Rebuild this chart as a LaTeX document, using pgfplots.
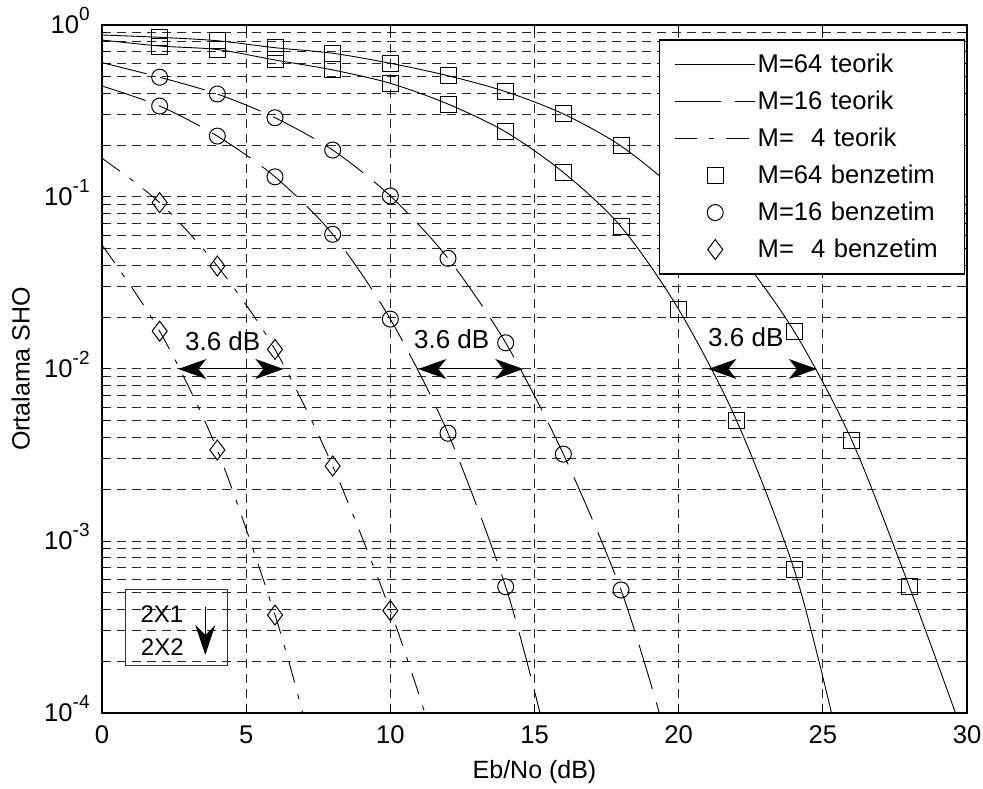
\documentclass[border=0pt]{standalone}
\usepackage{fontspec}
\setmainfont{Liberation Sans}
\usepackage{pgfplots}
\pgfplotsset{compat=1.18}
\usetikzlibrary{arrows.meta}

\newcommand{\ssup}[1]{\smash{\raisebox{6.8pt}{\fontsize{9.5}{9.5}\selectfont #1}}}
\tikzset{
  m16/.style={black, line width=0.45pt, dash pattern=on 23pt off 7pt},
  m4/.style={black, line width=0.45pt, dash pattern=on 11pt off 6pt on 2.5pt off 6pt},
  dbarrow/.style={line width=0.5pt,
    {Stealth[length=14pt,width=10pt,inset=4pt]}-{Stealth[length=14pt,width=10pt,inset=4pt]}},
}

\begin{document}
\begin{tikzpicture}
\begin{axis}[
  name=ax,
  scale only axis, width=432.5pt, height=344pt,
  ymode=log, xmin=0, xmax=30, ymin=1e-4, ymax=1,
  xtick={0,5,...,30},
  ytick={1e-4,1e-3,1e-2,1e-1,1},
  yticklabels={10\ssup{-4},10\ssup{-3},10\ssup{-2},10\ssup{-1},10\ssup{0}},
  /pgf/number format/assume math mode=true,
  tick label style={font=\fontsize{12.8}{14}\selectfont},
  xticklabel style={anchor=base, yshift=-15.2pt},
  yticklabel style={anchor=east, inner sep=0pt, xshift=-6pt},
  label style={font=\fontsize{12.5}{14}\selectfont},
  xlabel={Eb/No (dB)},
  ylabel={Ortalama SHO},
  xlabel style={at={(axis description cs:0.5,-0.0945)}, anchor=base},
  ylabel style={at={(axis description cs:-0.0939,0.5)}, anchor=center, inner sep=0pt},
  grid=both,
  major grid style={black!85, line width=0.5pt, dash pattern=on 4.5pt off 3pt},
  minor grid style={black!85, line width=0.5pt, dash pattern=on 4.5pt off 3pt},
  tick align=inside,
  major tick length=4.5pt, minor tick length=2.5pt,
  every tick/.style={black, line width=0.5pt},
  axis line style={line width=0.6pt},
  legend image code/.code={\draw[mark repeat=2,mark phase=2,#1] plot coordinates {(0pt,0pt) (20pt,0pt) (40pt,0pt)};},
  legend style={at={(0.998,0.979)}, anchor=north east, draw=black, line width=0.6pt,
    font=\fontsize{12.8}{14}\selectfont, inner xsep=7.5pt, inner ysep=3pt,
    column sep=0pt, row sep=0pt,
    nodes={inner xsep=1pt, inner ysep=0pt, text height=13.3pt, text depth=5.2pt, text width=95pt, align=left}},
  legend cell align=left,
]
% theoretical curves, 2x1 (upper)
\addplot[black, line width=0.45pt, smooth] coordinates {
  (0,0.875) (2,0.848) (4,0.81) (6,0.738) (8,0.685) (10,0.599) (12,0.507) (14,0.41)
  (16,0.304) (18,0.198) (20,0.106) (22,0.0486) (24,0.0166) (26,0.00386) (28,5.42e-4) (29.6,1e-4)};
\addlegendentry{M=64 teorik}
\addplot[m16, smooth] coordinates {
  (0,0.604) (2,0.497) (4,0.397) (6,0.289) (8,0.1875) (10,0.1014) (12,0.044) (14,0.0142)
  (16,0.0032) (18,5.19e-4) (19.33,1e-4)};
\addlegendentry{M=16 teorik}
\addplot[m4, smooth] coordinates {
  (0,0.168) (2,0.0927) (4,0.0397) (6,0.013) (8,0.00273) (10,3.94e-4) (11.2,1e-4)};
\addlegendentry{M=\ \ 4 teorik}
% simulation, 2x1
\addplot[only marks, mark=square, mark size=4pt, mark options={black, line width=0.5pt, solid}] coordinates {
  (2,0.848) (4,0.81) (6,0.738) (8,0.685) (10,0.599) (12,0.507) (14,0.41) (16,0.304)
  (18,0.198) (20,0.106) (22,0.0486) (24,0.0166) (26,0.00386) (28,5.42e-4)};
\addlegendentry{M=64 benzetim}
\addplot[only marks, mark=o, mark size=4pt, mark options={black, line width=0.5pt, solid}] coordinates {
  (2,0.497) (4,0.397) (6,0.289) (8,0.1875) (10,0.1014) (12,0.044) (14,0.0142) (16,0.0032) (18,5.19e-4)};
\addlegendentry{M=16 benzetim}
\addplot[only marks, mark=diamond, mark size=5pt, mark options={black, line width=0.5pt, solid}] coordinates {
  (2,0.0927) (4,0.0397) (6,0.013) (8,0.00273) (10,3.94e-4)};
\addlegendentry{M=\ \ 4 benzetim}
% 2x2 (lower)
\addplot[black, line width=0.45pt, smooth, forget plot] coordinates {
  (0,0.818) (2,0.755) (4,0.72) (6,0.626) (8,0.548) (10,0.458) (12,0.347) (14,0.239)
  (16,0.139) (18,0.0672) (20,0.0222) (22,0.00505) (24,6.87e-4) (25.3,1e-4)};
\addplot[m16, smooth, forget plot] coordinates {
  (0,0.442) (2,0.338) (4,0.226) (6,0.131) (8,0.0607) (10,0.0195) (12,0.00423) (14,5.42e-4) (15.19,1e-4)};
\addplot[m4, smooth, forget plot] coordinates {
  (0,0.0526) (2,0.0166) (4,0.00338) (6,3.71e-4) (6.96,1e-4)};
\addplot[only marks, mark=square, mark size=4pt, mark options={black, line width=0.5pt, solid}, forget plot] coordinates {
  (2,0.755) (4,0.72) (6,0.626) (8,0.548) (10,0.458) (12,0.347) (14,0.239) (16,0.139)
  (18,0.0672) (20,0.0222) (22,0.00505) (24,6.87e-4)};
\addplot[only marks, mark=o, mark size=4pt, mark options={black, line width=0.5pt, solid}, forget plot] coordinates {
  (2,0.338) (4,0.226) (6,0.131) (8,0.0607) (10,0.0195) (12,0.00423) (14,5.42e-4)};
\addplot[only marks, mark=diamond, mark size=5pt, mark options={black, line width=0.5pt, solid}, forget plot] coordinates {
  (2,0.0166) (4,0.00338) (6,3.71e-4)};

% 3.6 dB annotations
\draw[dbarrow] (axis cs:2.65,0.01) -- (axis cs:6.29,0.01);
\draw[dbarrow] (axis cs:10.97,0.01) -- (axis cs:14.61,0.01);
\draw[dbarrow] (axis cs:21.03,0.01) -- (axis cs:24.79,0.01);
\node[font=\fontsize{13}{14}\selectfont, inner sep=0pt] at (rel axis cs:0.1395,0.5397) {3.6 dB};
\node[font=\fontsize{13}{14}\selectfont, inner sep=0pt] at (rel axis cs:0.4043,0.5426) {3.6 dB};
\node[font=\fontsize{13}{14}\selectfont, inner sep=0pt] at (rel axis cs:0.7443,0.5458) {3.6 dB};

% 2X1 -> 2X2 box
\draw[black!80, line width=0.5pt] (rel axis cs:0.0277,0.0693) rectangle (rel axis cs:0.1449,0.1802);
\node[font=\fontsize{12}{13}\selectfont, inner sep=0pt] at (rel axis cs:0.0692,0.1442) {2X1};
\node[font=\fontsize{12}{13}\selectfont, inner sep=0pt] at (rel axis cs:0.0697,0.0964) {2X2};
\draw[line width=0.5pt, -{Stealth[length=15pt,width=10pt,inset=5pt]}]
  (rel axis cs:0.1194,0.1545) -- (rel axis cs:0.1194,0.0843);
\end{axis}
\pgfresetboundingbox
\path[use as bounding box] ([shift={(-51pt,-38pt)}]ax.south west) rectangle ([shift={(8pt,12.5pt)}]ax.north east);
\end{tikzpicture}
\end{document}
